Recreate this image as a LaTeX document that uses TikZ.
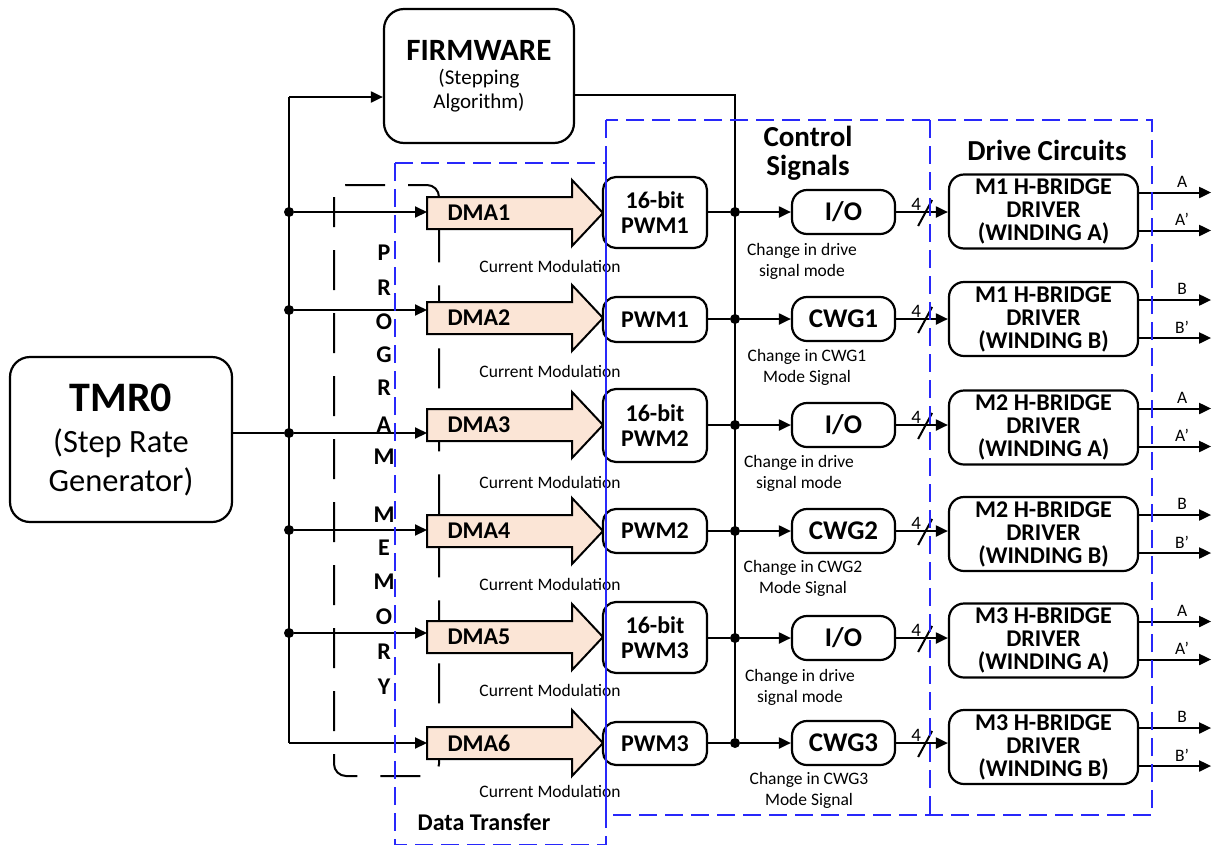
\documentclass[tikz,border=0pt]{standalone}
\usepackage{fontspec}
\setmainfont{Carlito}
\usetikzlibrary{arrows.meta,calc}
\definecolor{bl}{RGB}{40,40,250}
\definecolor{peach}{RGB}{251,229,214}
\newcommand\fsz[2]{\fontsize{#1}{#2}\selectfont}
\newcommand\dmaarrow[3]{%
  \filldraw[fill=peach,draw=black,line width=2pt,line join=miter]
    (427,#2-16) -- (572,#2-16) -- (572,#2-33) -- (603,#2) -- (572,#2+33) -- (572,#2+16) -- (427,#2+16) -- cycle;
  \node[lbl] (#1) at (479,#2) {#3};}
\begin{document}
\begin{tikzpicture}[x=1pt,y=-1pt,
  blk/.style={draw=black,line width=2.2pt,rounded corners=13pt,align=center,inner sep=0pt,fill=white},
  lbl/.style={font=\fsz{24}{25}\bfseries,align=center,inner sep=0pt},
  pwm/.style={blk,minimum width=104pt,font=\fsz{24}{25}\bfseries},
  ctl/.style={blk,rounded corners=15pt,minimum width=103pt,minimum height=44pt,font=\fsz{27}{27}\bfseries},
  hb/.style={blk,rounded corners=15pt,minimum width=189pt,minimum height=74pt,font=\fsz{24}{23}\bfseries},
  captxt/.style={font=\fsz{17.5}{21},align=center,inner sep=0pt},
  wire/.style={line width=2pt},
  arr/.style={wire,-{Triangle[length=12pt,width=11pt]}},
  jdot/.style={circle,fill=black,inner sep=0pt,minimum size=10pt},
  bluedash/.style={draw=bl,line width=2.6pt,dash pattern=on 18pt off 8pt},
  pmem/.style={line width=2pt,dash pattern=on 40pt off 23pt,rounded corners=12pt},
  pml/.style={font=\fsz{24}{24}\bfseries,inner sep=0pt}]
\useasboundingbox (0,0) rectangle (1214,844);

% program memory
\draw[pmem,dash phase=10pt] (334,185) rectangle (439,776);
\foreach \ch/\yy [count=\k] in {P/253,R/288,O/322,G/355,R/388,A/425,M/457,M/515,E/548,M/582,O/617,R/652,Y/687}
  \node[pml] (pm\k) at (384,\yy) {\ch};

% main boxes
\node[blk,rounded corners=20pt,minimum width=222pt,minimum height=165pt,font=\fsz{32.5}{38}] (tmr) at (121,439.5)
  {{\fsz{42}{42}\bfseries TMR0}\\[3pt](Step Rate\\[1pt]Generator)};
\node[blk,rounded corners=20pt,minimum width=190pt,minimum height=134pt,font=\fsz{21}{24}] (fw) at (479,76)
  {{\fsz{31}{31}\bfseries FIRMWARE}\\(Stepping\\Algorithm)};

% DMA arrows
\dmaarrow{dma1}{213}{DMA1}
\dmaarrow{dma2}{318}{DMA2}
\dmaarrow{dma3}{425}{DMA3}
\dmaarrow{dma4}{531}{DMA4}
\dmaarrow{dma5}{637}{DMA5}
\dmaarrow{dma6}{743}{DMA6}
\coordinate (dt1) at (427,212);
\coordinate (dt2) at (427,310);
\coordinate (dt3) at (427,433);
\coordinate (dt4) at (427,530);
\coordinate (dt5) at (427,633);
\coordinate (dt6) at (427,743);

\node[captxt] (cm1) at (550,266) {Current Modulation};
\node[captxt] (cm2) at (550,371) {Current Modulation};
\node[captxt] (cm3) at (550,482) {Current Modulation};
\node[captxt] (cm4) at (550,584) {Current Modulation};
\node[captxt] (cm5) at (550,690) {Current Modulation};
\node[captxt] (cm6) at (550,791) {Current Modulation};

% PWM boxes
\node[pwm,minimum height=71pt] (p1) at (655,212.5) {16-bit\\PWM1};
\node[pwm,minimum height=45pt] (p2) at (655,319.5) {PWM1};
\node[pwm,minimum height=73pt] (p3) at (655,425.5) {16-bit\\PWM2};
\node[pwm,minimum height=44pt] (p4) at (655,531) {PWM2};
\node[pwm,minimum height=71pt] (p5) at (655,637.5) {16-bit\\PWM3};
\node[pwm,minimum height=43pt] (p6) at (655,743.5) {PWM3};

% control boxes
\node[ctl] (k1) at (843.5,212) {I/O};
\node[ctl] (k2) at (843.5,319) {CWG1};
\node[ctl] (k3) at (843.5,425) {I/O};
\node[ctl] (k4) at (843.5,531) {CWG2};
\node[ctl] (k5) at (843.5,638) {I/O};
\node[ctl] (k6) at (843.5,743) {CWG3};

\node[captxt] (kc1) at (802,261) {Change in drive\\signal mode};
\node[captxt] (kc2) at (807,367) {Change in CWG1\\Mode Signal};
\node[captxt] (kc3) at (799,473.5) {Change in drive\\signal mode};
\node[captxt] (kc4) at (803,578) {Change in CWG2\\Mode Signal};
\node[captxt] (kc5) at (800,687) {Change in drive\\signal mode};
\node[captxt] (kc6) at (809,790.5) {Change in CWG3\\Mode Signal};

% H-bridge boxes
\node[hb] (h1) at (1043.5,211.5) {M1 H-BRIDGE\\DRIVER\\(WINDING A)};
\node[hb] (h2) at (1043.5,319) {M1 H-BRIDGE\\DRIVER\\(WINDING B)};
\node[hb] (h3) at (1043.5,427.5) {M2 H-BRIDGE\\DRIVER\\(WINDING A)};
\node[hb] (h4) at (1043.5,534) {M2 H-BRIDGE\\DRIVER\\(WINDING B)};
\node[hb] (h5) at (1043.5,640.5) {M3 H-BRIDGE\\DRIVER\\(WINDING A)};
\node[hb] (h6) at (1043.5,747) {M3 H-BRIDGE\\DRIVER\\(WINDING B)};

% left bus
\coordinate (b0) at (289,97);
\node[jdot] (b1) at (289,212) {};
\node[jdot] (b2) at (289,310) {};
\node[jdot] (b3) at (289,433) {};
\node[jdot] (b4) at (289,530) {};
\node[jdot] (b5) at (289,633) {};
\coordinate (b6) at (289,743);
\draw[wire] (b0) -- (b6);
\draw[arr] (b0) -- (b0 -| fw.west);
\draw[wire] (tmr.east |- b3) -- (b3);
\foreach \i in {1,...,6} \draw[arr] (b\i) -- (dt\i);

% right bus
\coordinate (c0) at (735,95);
\node[jdot] (c1) at (735,212) {};
\node[jdot] (c2) at (735,319) {};
\node[jdot] (c3) at (735,425) {};
\node[jdot] (c4) at (735,531) {};
\node[jdot] (c5) at (735,638) {};
\node[jdot] (c6) at (735,743) {};
\draw[wire] (fw.east |- c0) -- (c0) -- (c6);
\foreach \i in {1,...,6} {
  \draw[wire] (p\i.east |- c\i) -- (c\i);
  \draw[arr] (c\i) -- (k\i.west);
  \draw[arr] (k\i.east) -- (k\i.east -| h\i.west);
  \draw[wire] ($(k\i.east)+(22,14)$) -- ($(k\i.east)+(36,-12)$);
  \node[font=\fsz{19}{19},inner sep=0pt] (n\i) at ($(k\i.east)+(20,-8)$) {4};
}

% outputs
\foreach \i/\a/\b in {1/A/A’,2/B/B’,3/A/A’,4/B/B’,5/A/A’,6/B/B’} {
  \coordinate (oa\i) at ($(h\i.east)+(72,-19)$);
  \coordinate (ob\i) at ($(h\i.east)+(72,19)$);
  \draw[arr] ($(h\i.east)+(0,-19)$) -- (oa\i);
  \draw[arr] ($(h\i.east)+(0,19)$) -- (ob\i);
  \node[captxt] (la\i) at ($(h\i.east)+(43,-30)$) {\a};
  \node[captxt] (lb\i) at ($(h\i.east)+(43,8)$) {\b};
}

% headers
\node[font=\fsz{29}{29}\bfseries,align=center,inner sep=0pt] (hdrc) at (808,153) {Control\\Signals};
\node[font=\fsz{29}{29}\bfseries,inner sep=0pt] (hdrd) at (1047,150) {Drive Circuits};
\node[font=\fsz{24}{24}\bfseries,inner sep=0pt] (hdrt) at (484,822) {Data Transfer};

% blue regions
\draw[bluedash] (395,163) rectangle (606,845);
\draw[bluedash] (606,120) rectangle (1152,815);
\draw[bluedash] (930,120) -- (930,815);
\end{tikzpicture}
\end{document}
